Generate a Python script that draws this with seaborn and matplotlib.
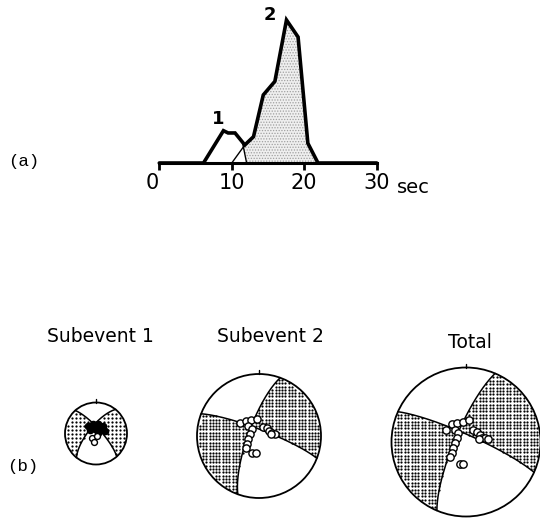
import numpy as np
import matplotlib
matplotlib.use("Agg")
import matplotlib.pyplot as plt
import seaborn as sns

# ---------------- data ----------------
# (a) source time functions: time (s) and amplitude (normalised to the main peak)
total_t = [0.0, 6.1, 8.85, 9.5, 10.45, 11.8, 13.0, 14.35, 15.95, 17.55, 19.15, 20.5, 21.9, 30.0]
total_a = [0.0, 0.0, 0.226, 0.21, 0.21, 0.126, 0.184, 0.476, 0.571, 1.0, 0.881, 0.138, 0.0, 0.0]
sub1_t = [6.1, 8.85, 9.5, 10.45, 11.45, 12.05]
sub1_a = [0.0, 0.226, 0.21, 0.21, 0.15, 0.0]
sub2_t = [10.0, 11.8, 13.0, 14.35, 15.95, 17.55, 19.15, 20.5, 21.9]
sub2_a = [0.0, 0.126, 0.184, 0.476, 0.571, 1.0, 0.881, 0.138, 0.0]
time_ticks = [0, 10, 20, 30]
time_tick_labels = ["0", "10", "20", "30"]
peak_labels = ["1", "2"]
peak_label_t = [8.15, 15.3]
peak_label_a = [0.31, 1.035]

# (b) focal mechanisms: two nodal planes (strike, dip) in degrees
mech_names = ["Subevent 1", "Subevent 2", "Total"]
plane1_strike = [318, 291, 294]
plane1_dip = [77, 81.5, 82]
plane2_strike = [219, 200, 203]
plane2_dip = [71, 76, 78]
polarity = [-1, -1, -1]

# station / data symbols (unit-circle coordinates, x east, y north)
sub1_fill_x = [-0.26, -0.10, 0.06, 0.23, 0.13, -0.03, -0.19, 0.29, 0.06]
sub1_fill_y = [0.24, 0.31, 0.31, 0.24, 0.15, 0.15, 0.11, 0.08, 0.02]
sub1_open_x = [-0.145, -0.08, 0.03]
sub1_open_y = [-0.16, -0.27, -0.08]
sub2_st_x = [-0.306, -0.215, -0.129, -0.037, -0.173, -0.108, -0.145, -0.173, -0.189,
             -0.215, -0.108, -0.048, 0.069, 0.124, 0.166, 0.215, 0.258, 0.194]
sub2_st_y = [0.205, 0.242, 0.258, 0.274, 0.166, 0.113, 0.027, -0.053, -0.134,
             -0.198, -0.279, -0.279, 0.150, 0.124, 0.081, 0.048, 0.027, 0.027]
total_st_x = [-0.267, -0.191, -0.124, -0.036, 0.044, -0.147, -0.103, -0.124, -0.147, -0.169,
              -0.191, -0.213, -0.08, -0.036, 0.097, 0.143, 0.187, 0.209, 0.253, 0.297, 0.177]
total_st_y = [0.16, 0.236, 0.249, 0.263, 0.293, 0.16, 0.116, 0.057, -0.017, -0.084,
              -0.151, -0.196, -0.297, -0.297, 0.16, 0.129, 0.093, 0.049, 0.049, 0.04, 0.04]

# ---------------- layout (pixels, origin top-left) ----------------
W, H = 540, 520
T0_PX, T30_PX, BASE_PX, PEAK_PX = 159.3, 376.7, 163.0, 20.0
AX_A = (140, 5, 400, 178)
BALL_CX = [96, 259, 466]
BALL_CY = [433.5, 436, 442]
BALL_R = [31, 62, 74.5]
DOT_PX = [4.0, 3.3, 3.4]
LABEL_CX = [100, 270, 470]
LABEL_BASE = [342.5, 342.5, 348]

sns.set_style("white")
plt.rcParams["font.family"] = ["DejaVu Sans"]
plt.rcParams["text.color"] = "black"
plt.rcParams["hatch.linewidth"] = 0.6
fig = plt.figure(figsize=(W / 100, H / 100), dpi=100)


def add_px_axes(x0, y0, x1, y1):
    return fig.add_axes([x0 / W, 1 - y1 / H, (x1 - x0) / W, (y1 - y0) / H])


def fxy(px, py):
    return px / W, 1 - py / H


# ---------------- (a) ----------------
ax = add_px_axes(*AX_A)
xs = (T30_PX - T0_PX) / 30.0
ys = BASE_PX - PEAK_PX
ax.set_xlim((AX_A[0] - T0_PX) / xs, (AX_A[2] - T0_PX) / xs)
ax.set_ylim((BASE_PX - AX_A[3]) / ys, (BASE_PX - AX_A[1]) / ys)

fill_tail = sorted([(t, a) for t, a in zip(total_t, total_a) if sub1_t[-2] < t <= sub2_t[-1]],
                   reverse=True)
fill_t = sub1_t[-2:] + [p[0] for p in fill_tail]
fill_a = sub1_a[-2:] + [p[1] for p in fill_tail]
ax.fill(fill_t, fill_a, facecolor="#efefef", edgecolor="#a0a0a0", hatch="......",
        linewidth=0, zorder=1)

sns.lineplot(x=sub1_t, y=sub1_a, ax=ax, color="black", linewidth=1.0, sort=False,
             estimator=None, zorder=3)
sns.lineplot(x=sub2_t, y=sub2_a, ax=ax, color="black", linewidth=1.0, sort=False,
             estimator=None, zorder=3)
sns.lineplot(x=total_t, y=total_a, ax=ax, color="black", linewidth=2.6, sort=False,
             estimator=None, zorder=4, solid_joinstyle="miter")

for s in ["top", "right", "left"]:
    ax.spines[s].set_visible(False)
ax.spines["bottom"].set_position(("data", 0))
ax.spines["bottom"].set_bounds(0, 30)
ax.spines["bottom"].set_linewidth(2.2)
ax.spines["bottom"].set_color("black")
ax.set_yticks([])
ax.set_xticks(time_ticks, time_tick_labels)
ax.tick_params(axis="x", bottom=True, direction="out", length=5, width=2,
               color="black", labelsize=15, pad=2.5, labelcolor="black")
ax.get_xticklabels()[0].set_horizontalalignment("right")
ax.annotate("sec", xy=(30, 0), xycoords="data", xytext=(14.4, -21.5),
            textcoords="offset points", ha="left", va="baseline", fontsize=14,
            color="black")
for lab, t, a in zip(peak_labels, peak_label_t, peak_label_a):
    ax.text(t, a, lab, ha="center", va="center", fontsize=13, fontweight="bold",
            color="black")
ax.patch.set_alpha(0)

fig.text(*fxy(24, 161.7), "(a)", family=["Liberation Mono", "DejaVu Sans Mono"],
         fontsize=12.5, ha="center", va="center", color="black")
fig.text(*fxy(22.5, 467), "(b)", family=["Liberation Mono", "DejaVu Sans Mono"],
         fontsize=12.5, ha="center", va="center", color="black")


# ---------------- (b) ----------------
def plane_vectors(strike, dip):
    f, d = np.radians(strike), np.radians(dip)
    s = np.array([np.cos(f), np.sin(f), 0.0])
    dd = np.array([-np.cos(d) * np.sin(f), np.cos(d) * np.cos(f), np.sin(d)])
    n = np.array([-np.sin(d) * np.sin(f), np.sin(d) * np.cos(f), -np.cos(d)])
    return s, dd, n


def project(v):
    v = v / np.linalg.norm(v, axis=-1, keepdims=True)
    p = np.arcsin(np.clip(v[..., 2], -1, 1))
    az = np.arctan2(v[..., 1], v[..., 0])
    r = np.sqrt(2) * np.sin((np.pi / 2 - p) / 2)
    return r * np.sin(az), r * np.cos(az)


def inverse(x, y):
    r = np.hypot(x, y)
    p = np.pi / 2 - 2 * np.arcsin(np.clip(r / np.sqrt(2), 0, 1))
    az = np.arctan2(x, y)
    return np.stack([np.cos(p) * np.cos(az), np.cos(p) * np.sin(az), np.sin(p)], axis=-1)


stations = [
    [(sub1_fill_x, sub1_fill_y, "black", 20), (sub1_open_x, sub1_open_y, "white", 18)],
    [(sub2_st_x, sub2_st_y, "white", 27)],
    [(total_st_x, total_st_y, "white", 28)],
]

for i in range(3):
    cx, cy, R = BALL_CX[i], BALL_CY[i], BALL_R[i]
    m = 1.25
    bx = add_px_axes(cx - m * R, cy - m * R, cx + m * R, cy + m * R)
    bx.set_xlim(-m, m)
    bx.set_ylim(-m, m)
    bx.axis("off")

    s1, d1, n1 = plane_vectors(plane1_strike[i], plane1_dip[i])
    s2, d2, n2 = plane_vectors(plane2_strike[i], plane2_dip[i])

    step = DOT_PX[i] / R
    k = int(np.floor(1 / step))
    g = np.arange(-k, k + 1) * step
    X, Y = np.meshgrid(g, g)
    X, Y = X.ravel(), Y.ravel()
    V = inverse(X, Y)
    pol = polarity[i] * (V @ n1) * (V @ n2)
    mask = (np.hypot(X, Y) < 1 - 1.2 / R) & (pol > 0)
    bx.scatter(X[mask], Y[mask], s=2.6, color="black", linewidths=0, zorder=1)

    th = np.linspace(0, np.pi, 241)[:, None]
    for s, d in [(s1, d1), (s2, d2)]:
        gx, gy = project(np.cos(th) * s + np.sin(th) * d)
        bx.plot(gx, gy, color="black", lw=1.1, zorder=2)

    bx.add_patch(plt.Circle((0, 0), 1, fill=False, lw=1.3, color="black", zorder=3))
    bx.plot([0, 0], [1, 1 + 4.0 / R], color="black", lw=1.0, zorder=3)

    for sx, sy, fc, sz in stations[i]:
        sns.scatterplot(x=sx, y=sy, ax=bx, s=sz, color=fc, edgecolor="black",
                        linewidth=1.0, zorder=5, legend=False)

    fig.text(*fxy(LABEL_CX[i], LABEL_BASE[i]), mech_names[i], ha="center",
             va="baseline", fontsize=13.5, color="black")

fig.savefig("out.png", dpi=100)
